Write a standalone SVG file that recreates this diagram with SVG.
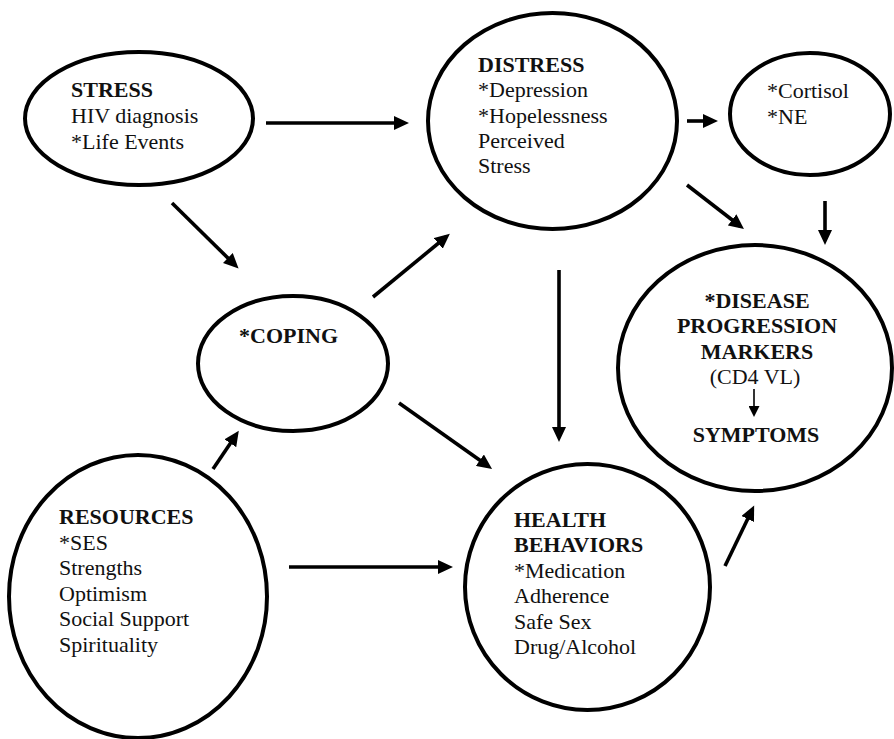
<svg xmlns="http://www.w3.org/2000/svg" width="894" height="739" viewBox="0 0 894 739">
<defs>
<style>
.node{fill:#fff;stroke:#000;stroke-width:4}
text{font-family:"Liberation Serif","Times New Roman",serif;font-size:22px;fill:#111}
.b{font-weight:bold}
.c{text-anchor:middle}
.arr{stroke:#000;stroke-width:3.6;fill:none;marker-end:url(#ah)}
.thin{stroke:#000;stroke-width:1.6;fill:none;marker-end:url(#ahs)}
</style>
<marker id="ah" markerUnits="userSpaceOnUse" markerWidth="16" markerHeight="14" viewBox="0 0 16 14" refX="10" refY="7" orient="auto">
<path d="M0,0 L15,7 L0,14 z" fill="#000"/>
</marker>
<marker id="ahs" markerUnits="userSpaceOnUse" markerWidth="11" markerHeight="11" viewBox="0 0 11 11" refX="5" refY="5.5" orient="auto">
<path d="M0,0 L11,5.5 L0,11 z" fill="#000"/>
</marker>
</defs>
<rect width="894" height="739" fill="#fff"/>
<g id="connectors">
<line class="arr" x1="266" y1="123" x2="404" y2="123"/>
<line class="arr" x1="172" y1="203" x2="235" y2="265"/>
<line class="arr" x1="373" y1="297" x2="446" y2="237"/>
<line class="arr" x1="687" y1="121" x2="713" y2="121"/>
<line class="arr" x1="687" y1="185" x2="740" y2="226"/>
<line class="arr" x1="825" y1="201" x2="825" y2="240"/>
<line class="arr" x1="559" y1="270" x2="559" y2="437"/>
<line class="arr" x1="399" y1="403" x2="488" y2="466"/>
<line class="arr" x1="213" y1="469" x2="236" y2="435"/>
<line class="arr" x1="289" y1="567" x2="448" y2="567"/>
<line class="arr" x1="725" y1="566" x2="752" y2="510"/>
</g>
<g id="stress">
<ellipse class="node" cx="139" cy="118.5" rx="114" ry="66.5"/>
<text class="b" x="71" y="97">STRESS</text>
<text x="71" y="123">HIV diagnosis</text>
<text x="71" y="149">*Life Events</text>
</g>
<g id="coping">
<ellipse class="node" cx="293" cy="363.5" rx="95" ry="67.5"/>
<text class="b" x="239" y="343">*COPING</text>
</g>
<g id="distress">
<ellipse class="node" cx="552.5" cy="121" rx="124.5" ry="108"/>
<text class="b" x="478" y="72">DISTRESS</text>
<text x="478" y="97">*Depression</text>
<text x="478" y="123">*Hopelessness</text>
<text x="478" y="148">Perceived</text>
<text x="478" y="173">Stress</text>
</g>
<g id="cortisol">
<ellipse class="node" cx="810" cy="114" rx="80" ry="61"/>
<text x="767" y="98">*Cortisol</text>
<text x="767" y="124">*NE</text>
</g>
<g id="disease">
<ellipse class="node" cx="755" cy="368" rx="137" ry="123"/>
<text class="b c" x="757" y="308">*DISEASE</text>
<text class="b c" x="757" y="333">PROGRESSION</text>
<text class="b c" x="757" y="359">MARKERS</text>
<text class="c" x="755" y="384">(CD4 VL)</text>
<line class="thin" x1="754" y1="389" x2="754" y2="411"/>
<text class="b c" x="756" y="442">SYMPTOMS</text>
</g>
<g id="resources">
<ellipse class="node" cx="138" cy="596.5" rx="129" ry="141.5"/>
<text class="b" x="59" y="524">RESOURCES</text>
<text x="59" y="550">*SES</text>
<text x="59" y="575">Strengths</text>
<text x="59" y="601">Optimism</text>
<text x="59" y="626">Social Support</text>
<text x="59" y="652">Spirituality</text>
</g>
<g id="health">
<ellipse class="node" cx="587.5" cy="587" rx="122.5" ry="123"/>
<text class="b" x="514" y="527">HEALTH</text>
<text class="b" x="514" y="552">BEHAVIORS</text>
<text x="514" y="578">*Medication</text>
<text x="514" y="603">Adherence</text>
<text x="514" y="629">Safe Sex</text>
<text x="514" y="654">Drug/Alcohol</text>
</g>
</svg>
